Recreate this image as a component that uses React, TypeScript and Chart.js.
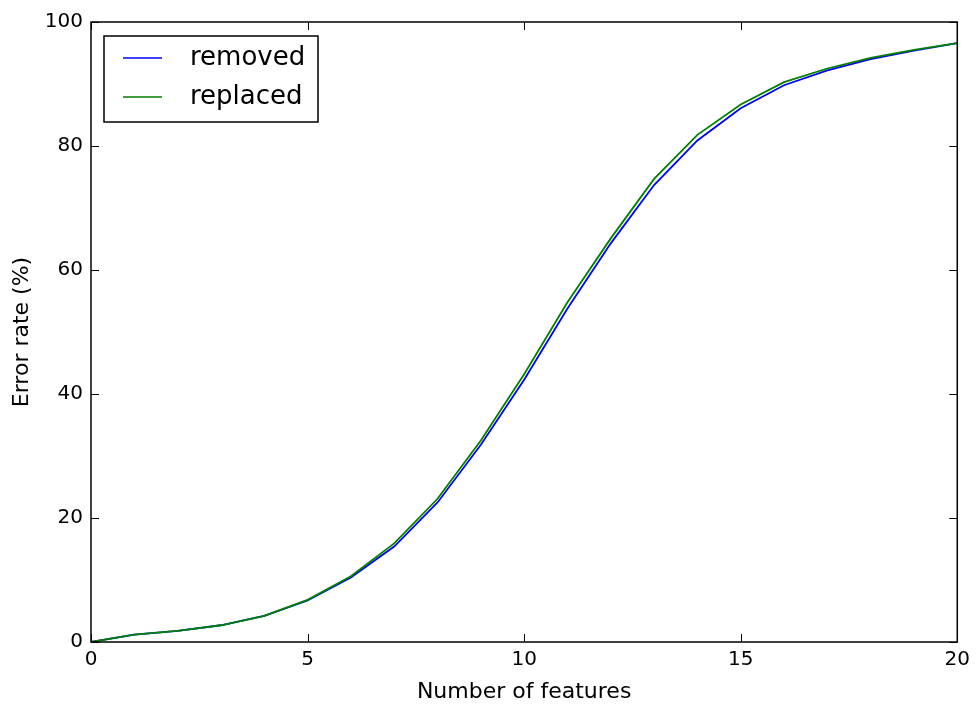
import React, { useEffect, useRef } from "react";
import { Chart, registerables } from "chart.js";

Chart.register(...registerables);

// Number of features on the x axis
const featureCounts = [0, 1, 2, 3, 4, 5, 6, 7, 8, 9, 10, 11, 12, 13, 14, 15, 16, 17, 18, 19, 20];
// Error rate (%) when features are removed / replaced
const removedRate = [0, 1.2, 1.8, 2.7, 4.2, 6.7, 10.4, 15.4, 22.5, 31.8, 42.3, 53.8, 64.3, 73.7, 80.9, 86.1, 89.8, 92.2, 94.0, 95.4, 96.6];
const replacedRate = [0, 1.2, 1.8, 2.7, 4.2, 6.8, 10.6, 15.9, 23.1, 32.5, 43.2, 54.8, 65.1, 74.7, 81.8, 86.7, 90.3, 92.5, 94.2, 95.5, 96.6];

const xTicks = [0, 5, 10, 15, 20];
const yTicks = [0, 20, 40, 60, 80, 100];
const seriesNames = ["removed", "replaced"];
const seriesColors = ["#0000ff", "#008000"];
const xTitle = "Number of features";
const yTitle = "Error rate (%)";

const FONT = "'DejaVu Sans', sans-serif";
const W = 976;
const H = 704;

// Axes frame with inward ticks on all four sides
const framePlugin = {
  id: "mplFrame",
  afterDatasetsDraw(chart: any) {
    const { ctx, chartArea: a, scales } = chart;
    const L = 8;
    ctx.save();
    ctx.strokeStyle = "#000";
    ctx.lineWidth = 1;
    ctx.beginPath();
    for (const v of xTicks) {
      const px = Math.round(scales.x.getPixelForValue(v)) + 0.5;
      ctx.moveTo(px, a.bottom);
      ctx.lineTo(px, a.bottom - L);
      ctx.moveTo(px, a.top);
      ctx.lineTo(px, a.top + L);
    }
    for (const v of yTicks) {
      const py = Math.round(scales.y.getPixelForValue(v)) + 0.5;
      ctx.moveTo(a.left, py);
      ctx.lineTo(a.left + L, py);
      ctx.moveTo(a.right, py);
      ctx.lineTo(a.right - L, py);
    }
    ctx.stroke();
    ctx.lineWidth = 1.5;
    ctx.strokeRect(a.left, a.top, a.right - a.left, a.bottom - a.top);
    ctx.restore();
  },
};

// Boxed legend in the upper-left corner of the axes
const legendPlugin = {
  id: "mplLegend",
  afterDraw(chart: any) {
    const { ctx, chartArea: a } = chart;
    const bx = a.left + 13;
    const by = a.top + 14;
    const bw = 214;
    const bh = 86;
    ctx.save();
    ctx.fillStyle = "#fff";
    ctx.fillRect(bx, by, bw, bh);
    ctx.strokeStyle = "#000";
    ctx.lineWidth = 1.5;
    ctx.strokeRect(bx, by, bw, bh);
    ctx.font = `26px ${FONT}`;
    ctx.textBaseline = "middle";
    ctx.textAlign = "left";
    seriesNames.forEach((name, i) => {
      const y = by + 22 + i * 39;
      ctx.strokeStyle = seriesColors[i];
      ctx.lineWidth = 1.6;
      ctx.beginPath();
      ctx.moveTo(bx + 19, y);
      ctx.lineTo(bx + 58, y);
      ctx.stroke();
      ctx.fillStyle = "#000";
      ctx.fillText(name, bx + 86, y);
    });
    ctx.restore();
  },
};

export default function App() {
  const ref = useRef<HTMLCanvasElement | null>(null);

  useEffect(() => {
    if (!ref.current) return;
    const series = [removedRate, replacedRate];
    const chart = new Chart(ref.current, {
      type: "line",
      data: {
        datasets: series.map((vals, i) => ({
          label: seriesNames[i],
          data: featureCounts.map((x, j) => ({ x, y: vals[j] })),
          borderColor: seriesColors[i],
          backgroundColor: seriesColors[i],
          borderWidth: 1.8,
          pointRadius: 0,
          tension: 0,
          fill: false,
          order: series.length - i,
        })),
      },
      options: {
        responsive: false,
        animation: false,
        events: [],
        layout: { padding: { left: 0, top: 22, right: 16, bottom: 0 } },
        plugins: { legend: { display: false }, tooltip: { enabled: false } },
        scales: {
          x: {
            type: "linear",
            min: 0,
            max: 20,
            afterBuildTicks: (s: any) => {
              s.ticks = xTicks.map((v) => ({ value: v }));
            },
            afterFit: (s: any) => {
              s.height = 62;
            },
            grid: { display: false, drawTicks: false },
            border: { display: false },
            ticks: { color: "#000", padding: 6, font: { family: FONT, size: 20 } },
            title: {
              display: true,
              text: xTitle,
              color: "#000",
              font: { family: FONT, size: 22 },
              padding: { top: 0, bottom: -1 },
            },
          },
          y: {
            type: "linear",
            min: 0,
            max: 100,
            afterBuildTicks: (s: any) => {
              s.ticks = yTicks.map((v) => ({ value: v }));
            },
            afterFit: (s: any) => {
              s.width = 91;
            },
            grid: { display: false, drawTicks: false },
            border: { display: false },
            ticks: { color: "#000", padding: 8, font: { family: FONT, size: 20 } },
            title: {
              display: true,
              text: yTitle,
              color: "#000",
              font: { family: FONT, size: 22 },
              padding: { top: 9, bottom: 0 },
            },
          },
        },
      },
      plugins: [framePlugin, legendPlugin],
    });
    return () => chart.destroy();
  }, []);

  return (
    <div style={{ position: "absolute", left: 0, top: 0, width: W, height: H, background: "#fff" }}>
      <canvas ref={ref} width={W} height={H} style={{ width: W, height: H, display: "block" }} />
    </div>
  );
}
